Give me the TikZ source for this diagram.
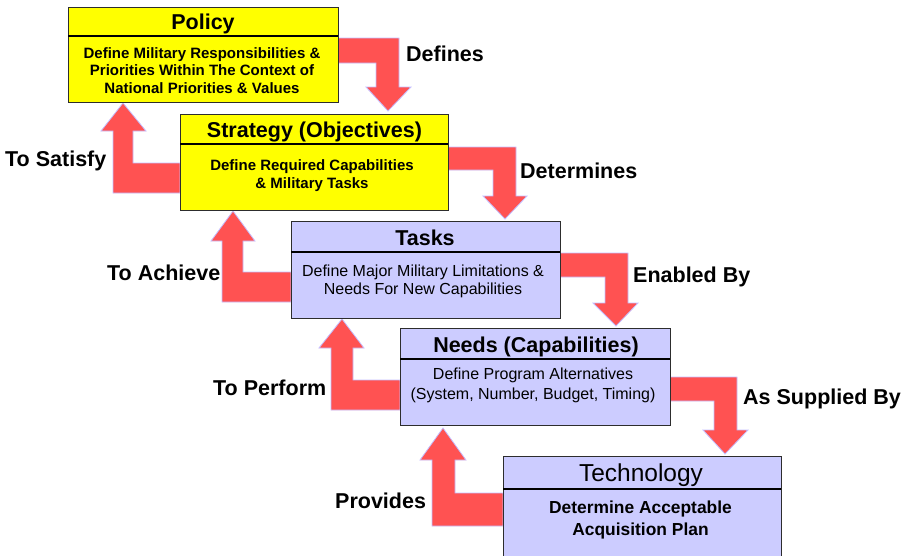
\documentclass[tikz,border=0pt]{standalone}
\usepackage{fontspec}
\setmainfont{Liberation Sans}
\usetikzlibrary{calc}
\definecolor{arrowred}{RGB}{255,82,82}
\definecolor{arrowedge}{RGB}{196,190,255}
\definecolor{boxyellow}{RGB}{255,255,0}
\definecolor{boxlav}{RGB}{204,204,255}
\definecolor{boxedge}{RGB}{45,45,45}
\tikzset{
  box/.style={draw=boxedge, line width=1pt, anchor=north west, inner sep=0pt, outer sep=0pt},
  yel/.style={box, fill=boxyellow},
  lav/.style={box, fill=boxlav},
  divider/.style={line width=2pt, black},
  bigarrow/.style={fill=arrowred, draw=arrowedge, line width=0.8pt, line join=miter},
  lbl/.style={font=\bfseries\fontsize{21.5}{24}\selectfont, anchor=base west, inner sep=0pt},
  ttl/.style={font=\bfseries\fontsize{21.5}{24}\selectfont, anchor=base, inner sep=0pt},
  ttlr/.style={font=\fontsize{24.5}{28}\selectfont, anchor=base, inner sep=0pt},
  bodyb/.style={font=\bfseries\fontsize{15}{18}\selectfont, anchor=base, inner sep=0pt},
  bodyr/.style={font=\fontsize{16}{20}\selectfont, anchor=base, inner sep=0pt},
  bodyt/.style={font=\bfseries\fontsize{17.4}{22}\selectfont, anchor=base, inner sep=0pt},
}
\begin{document}
\begin{tikzpicture}[x=1pt,y=-1pt]
\useasboundingbox (0,0) rectangle (906,555);
\clip (0,0) rectangle (906,555);

% ---------- arrows (drawn beneath boxes) ----------
% Defines: Policy -> Strategy
\draw[bigarrow] (338,38) -- (399,38) -- (399,87) -- (411,87) -- (388,111) -- (366,87) -- (376,87) -- (376,63) -- (338,63) -- cycle;
% Determines: Strategy -> Tasks
\draw[bigarrow] (448,147) -- (516,147) -- (516,196) -- (527,196) -- (505,219) -- (483,196) -- (493,196) -- (493,170) -- (448,170) -- cycle;
% Enabled By: Tasks -> Needs
\draw[bigarrow] (560,253) -- (628,253) -- (628,303) -- (638,303) -- (616,326) -- (593,303) -- (605,303) -- (605,277) -- (560,277) -- cycle;
% As Supplied By: Needs -> Technology
\draw[bigarrow] (670,377) -- (737,377) -- (737,430) -- (748,430) -- (725,454) -- (703,430) -- (714,430) -- (714,401) -- (670,401) -- cycle;
% To Satisfy: Strategy -> Policy
\draw[bigarrow] (180,163) -- (133,163) -- (133,131) -- (146,131) -- (123,103) -- (101,131) -- (113,131) -- (113,193) -- (180,193) -- cycle;
% To Achieve: Tasks -> Strategy
\draw[bigarrow] (291,272) -- (243,272) -- (243,241) -- (255,241) -- (233,211) -- (211,241) -- (222,241) -- (222,302) -- (291,302) -- cycle;
% To Perform: Needs -> Tasks
\draw[bigarrow] (400,380) -- (353,380) -- (353,348) -- (364,348) -- (342,319) -- (319,348) -- (331,348) -- (331,410) -- (400,410) -- cycle;
% Provides: Technology -> Needs
\draw[bigarrow] (503,493) -- (455,493) -- (455,460) -- (466,460) -- (443,428) -- (420,460) -- (432,460) -- (432,526) -- (503,526) -- cycle;

% ---------- boxes ----------
\node[yel, minimum width=270pt, minimum height=95pt] (policy) at (68,7) {};
\node[yel, minimum width=268pt, minimum height=96pt] (strategy) at (180,114) {};
\node[lav, minimum width=269pt, minimum height=97pt] (tasks) at (291,221) {};
\node[lav, minimum width=270pt, minimum height=97pt] (needs) at (400,328) {};
\node[lav, minimum width=278pt, minimum height=110pt] (tech) at (503,456) {};

\draw[divider] (policy.west |- 0,36) -- (policy.east |- 0,36);
\draw[divider] (strategy.west |- 0,144) -- (strategy.east |- 0,144);
\draw[divider] (tasks.west |- 0,252) -- (tasks.east |- 0,252);
\draw[divider] (needs.west |- 0,359) -- (needs.east |- 0,359);
\draw[divider] (tech.west |- 0,489) -- (tech.east |- 0,489);

% ---------- titles ----------
\node[ttl] (policyT) at (203,29) {Policy};
\node[ttl] (strategyT) at (314.5,137) {Strategy (Objectives)};
\node[ttl] (tasksT) at (425,245) {Tasks};
\node[ttl] (needsT) at (536,352) {Needs (Capabilities)};
\node[ttlr] (techT) at (641,481) {Technology};

% ---------- body texts ----------
\node[bodyb] (policyB1) at (202,58) {Define Military Responsibilities \&};
\node[bodyb] (policyB2) at (202,75.5) {Priorities Within The Context of};
\node[bodyb] (policyB3) at (202,93) {National Priorities \& Values};

\node[bodyb] (strategyB1) at (312,170.5) {Define Required Capabilities};
\node[bodyb] (strategyB2) at (312,188) {\& Military Tasks};

\node[bodyr] (tasksB1) at (423,276) {Define Major Military Limitations \&};
\node[bodyr] (tasksB2) at (423,294) {Needs For New Capabilities};

\node[bodyr] (needsB1) at (533,379) {Define Program Alternatives};
\node[bodyr] (needsB2) at (533,399) {(System, Number, Budget, Timing)};

\node[bodyt] (techB1) at (640.5,513) {Determine Acceptable};
\node[bodyt] (techB2) at (640.5,535.5) {Acquisition Plan};

% ---------- arrow labels ----------
\node[lbl] (lDefines) at (406,61) {Defines};
\node[lbl] (lSatisfy) at (5,166) {To Satisfy};
\node[lbl] (lDetermines) at (520,178) {Determines};
\node[lbl] (lAchieve) at (107,280) {To Achieve};
\node[lbl] (lEnabled) at (633,282) {Enabled By};
\node[lbl] (lPerform) at (213,395) {To Perform};
\node[lbl] (lSupplied) at (743,404) {As Supplied By};
\node[lbl] (lProvides) at (335,508) {Provides};
\end{tikzpicture}
\end{document}
